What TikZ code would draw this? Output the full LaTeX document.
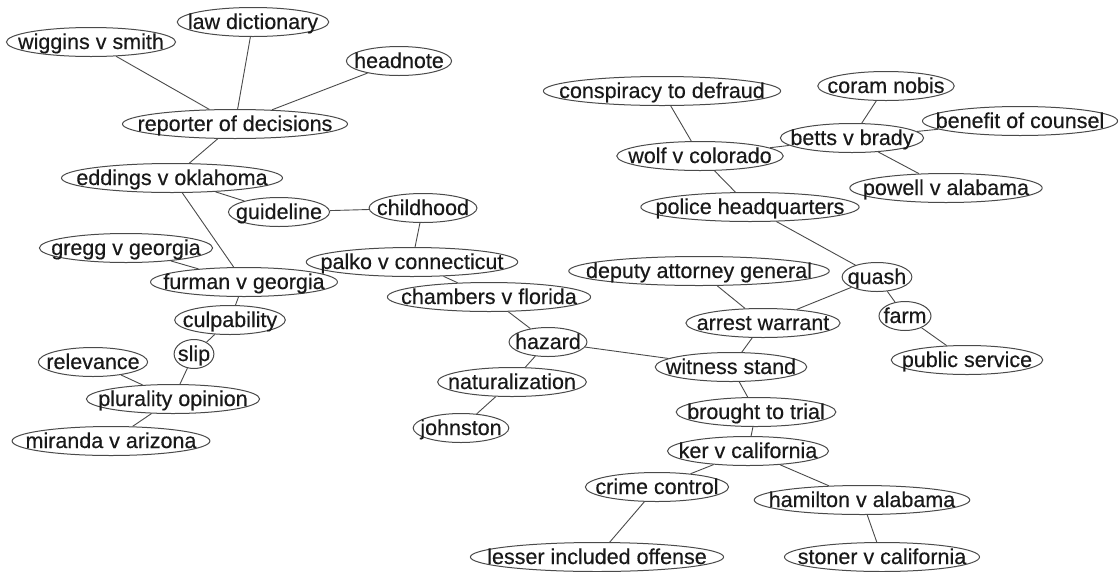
\documentclass[tikz,border=0pt]{standalone}
\usepackage{fontspec}
\setmainfont{Liberation Sans}[FakeBold=0.4]
\usetikzlibrary{shapes.geometric}
\definecolor{linegray}{HTML}{4A4A4A}
\tikzset{
  term/.style={ellipse, draw=linegray, line width=1pt, inner sep=0pt,
    minimum height=29pt, text=black!90, text height=17pt, text depth=3pt},
  link/.style={draw=linegray, line width=0.9pt},
}
% an ellipse sized from the width of its label
\newcommand\gnode[3]{%
  \pgfmathsetmacro\gnodew{1.14*width("#3")+3}%
  \node[term, minimum width=\gnodew pt] (#1) at (#2) {\makebox[0pt]{#3}};}

\begin{document}
\begin{tikzpicture}[x=1pt, y=-1pt]
\fontsize{21.5}{26}\selectfont
\useasboundingbox (0,0) rectangle (1119,571);

% left cluster
\gnode{wiggins}{91,42}{wiggins v smith}
\gnode{law}{253,22}{law dictionary}
\gnode{headnote}{399,61}{headnote}
\gnode{reporter}{235,124}{reporter of decisions}
\gnode{eddings}{172,178}{eddings v oklahoma}
\gnode{guideline}{279,212}{guideline}
\gnode{childhood}{423,208}{childhood}
\gnode{gregg}{126,248}{gregg v georgia}
\gnode{palko}{412,262}{palko v connecticut}
\gnode{furman}{244,282}{furman v georgia}
\gnode{chambers}{489,297}{chambers v florida}
\gnode{culpability}{230,320}{culpability}
\gnode{slip}{194,354}{slip}
\gnode{relevance}{93,362}{relevance}
\gnode{plurality}{173,399}{plurality opinion}
\gnode{miranda}{111,441}{miranda v arizona}
\gnode{hazard}{548,342}{hazard}
\gnode{naturalization}{512,382}{naturalization}
\gnode{johnston}{461,428}{johnston}

% right cluster
\gnode{conspiracy}{662,91}{conspiracy to defraud}
\gnode{coram}{886,86}{coram nobis}
\gnode{betts}{852,138}{betts v brady}
\gnode{benefit}{1020,121}{benefit of counsel}
\gnode{wolf}{700,156}{wolf v colorado}
\gnode{powell}{946,188}{powell v alabama}
\gnode{police}{750,207}{police headquarters}
\gnode{deputy}{699,271}{deputy attorney general}
\gnode{quash}{877,277}{quash}
\gnode{farm}{905,316}{farm}
\gnode{arrest}{763,323}{arrest warrant}
\gnode{public}{967,360}{public service}
\gnode{witness}{731,367}{witness stand}
\gnode{brought}{756,412}{brought to trial}
\gnode{ker}{748,451}{ker v california}
\gnode{crime}{657,487}{crime control}
\gnode{hamilton}{862,500}{hamilton v alabama}
\gnode{lesser}{597,557}{lesser included offense}
\gnode{stoner}{882,557}{stoner v california}

% connectors
\foreach \a/\b in {wiggins/reporter, law/reporter, headnote/reporter,
  reporter/eddings, eddings/guideline, eddings/furman, guideline/childhood,
  childhood/palko, gregg/furman, palko/chambers, furman/culpability,
  culpability/slip, slip/plurality, relevance/plurality, plurality/miranda,
  chambers/hazard, hazard/naturalization, naturalization/johnston,
  hazard/witness, conspiracy/wolf, wolf/betts, coram/betts, betts/benefit,
  betts/powell, wolf/police, police/quash, quash/arrest, quash/farm,
  farm/public, deputy/arrest, arrest/witness, witness/brought, brought/ker,
  ker/crime, ker/hamilton, crime/lesser, hamilton/stoner}
  \draw[link] (\a) -- (\b);
\end{tikzpicture}
\end{document}
